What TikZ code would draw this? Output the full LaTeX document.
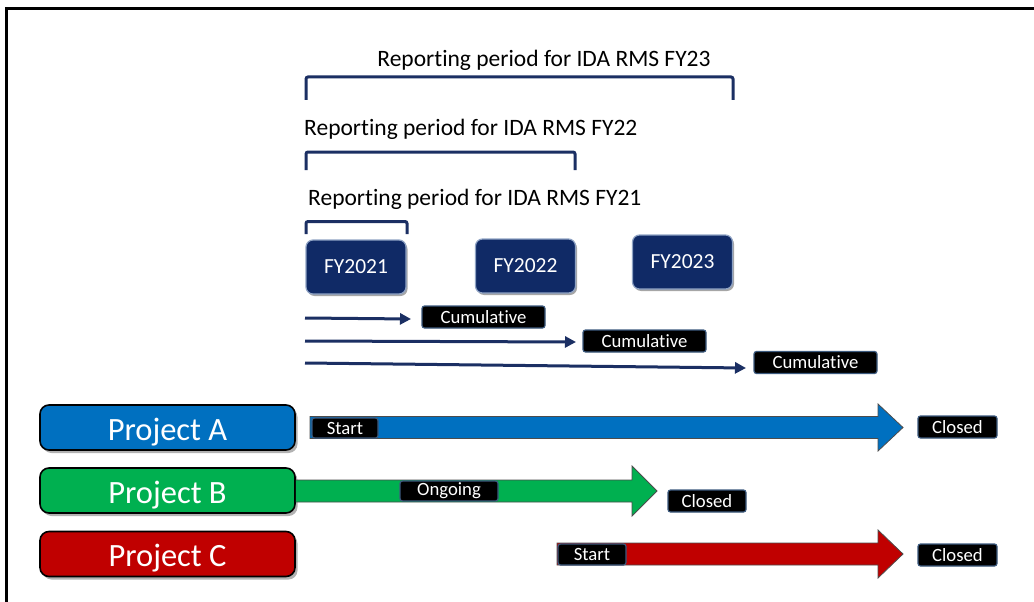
\documentclass[tikz,border=0pt]{standalone}
\usepackage{fontspec}
\setmainfont{Carlito}[Ligatures=NoCommon]
\usetikzlibrary{arrows.meta,shadows}
\definecolor{navy}{HTML}{102A66}
\definecolor{navyline}{HTML}{1B2F63}
\definecolor{fyborder}{HTML}{8FA3C4}
\definecolor{tagborder}{HTML}{3C5A7E}
\definecolor{pblue}{HTML}{0070C0}
\definecolor{pgreen}{HTML}{00B050}
\definecolor{pred}{HTML}{C00000}
\tikzset{
  period/.style={font=\fontsize{23.5}{27}\selectfont, text=black, inner sep=0pt},
  bracket/.style={draw=navyline, line width=3pt, rounded corners=2pt},
  fybox/.style={fill=navy, draw=fyborder, line width=1.2pt, rounded corners=7pt,
    minimum width=100pt, minimum height=54pt, inner sep=0pt, text=white,
    font=\fontsize{21.5}{25}\selectfont,
    drop shadow={shadow xshift=1.5pt, shadow yshift=-2pt, opacity=0.35, fill=black}},
  tag/.style={fill=black, draw=tagborder, line width=1.2pt, rounded corners=2.5pt,
    inner sep=0pt, text=white, font=\fontsize{18.7}{21}\selectfont, minimum height=22pt},
  thinarrow/.style={draw=navyline, line width=3pt, -{Triangle[length=11pt,width=11pt]}},
  project/.style={draw=black, line width=1.6pt, rounded corners=9pt,
    minimum width=255pt, minimum height=45pt, inner sep=0pt, text=white,
    font=\fontsize{32.5}{36}\selectfont,
    drop shadow={shadow xshift=2.5pt, shadow yshift=-3pt, opacity=0.3, fill=black}},
  bigarrow/.style={draw=black!70, line width=0.8pt}
}
\newcommand{\projtext}[1]{\raisebox{-12.5pt}[0pt][0pt]{#1}}
\begin{document}
\begin{tikzpicture}[x=1pt,y=-1pt]
\useasboundingbox (0,0) rectangle (1034,602);
\fill[white] (0,0) rectangle (1034,602);
% frame
\draw[line width=3pt] (1034,8.5) -- (6,8.5) -- (6,602);

% reporting periods
\node[period] (t23) at (544,60) {Reporting period for IDA RMS FY23};
\draw[bracket] (306,100) -- (306,77) -- (733,77) -- (733,100);
\node[period, anchor=west] (t22) at (304,129) {Reporting period for IDA RMS FY22};
\draw[bracket] (306,170) -- (306,152) -- (575,152) -- (575,170);
\node[period, anchor=west] (t21) at (308,199) {Reporting period for IDA RMS FY21};
\draw[bracket] (306,234) -- (306,221.5) -- (407,221.5) -- (407,234);

% FY boxes
\node[fybox] (fy21) at (356,267) {FY2021};
\node[fybox] (fy22) at (525.5,266) {FY2022};
\node[fybox] (fy23) at (682.5,262) {FY2023};

% cumulative
\node[tag, minimum width=123pt] (c1) at (483.5,317) {Cumulative};
\node[tag, minimum width=123pt] (c2) at (644.5,341) {Cumulative};
\node[tag, minimum width=123pt] (c3) at (815.5,362.5) {Cumulative};
\coordinate (s1) at (305,318);
\coordinate (e1) at (411,319);
\coordinate (s2) at (305,341);
\coordinate (e2) at (576,342);
\coordinate (s3) at (305,363);
\coordinate (e3) at (746,368);
\draw[thinarrow] (s1) -- (e1);
\draw[thinarrow] (s2) -- (e2);
\draw[thinarrow] (s3) -- (e3);

% projects
\node[project, fill=pblue] (pa) at (167.5,427.5) {\projtext{Project A}};
\node[project, fill=pgreen] (pb) at (167.5,490.5) {\projtext{Project B}};
\node[project, fill=pred] (pc) at (167.5,554) {\projtext{Project C}};

% big arrows
\fill[pblue, bigarrow] (310,416.5) -- (878,416.5) -- (878,404) -- (903,427.5) -- (878,451) -- (878,438.5) -- (310,438.5) -- cycle;
\fill[pgreen, bigarrow] (pb.east |- 0,480) -- (632,480) -- (632,466) -- (657,491) -- (632,516) -- (632,502) -- (pb.east |- 0,502);
\fill[pred, bigarrow] (557,543) -- (878,543) -- (878,530) -- (903,554) -- (878,578) -- (878,565) -- (557,565) -- cycle;

% tags on project rows
\node[tag, minimum width=66pt, minimum height=20pt] (sa) at (345,428) {Start};
\node[tag, minimum width=79pt] (ca) at (957.5,427) {Closed};
\node[tag, minimum width=98pt, minimum height=20pt] (ob) at (449,491) {Ongoing};
\node[tag, minimum width=78pt] (cb) at (707,501) {Closed};
\node[tag, minimum width=68pt, minimum height=21pt] (sc) at (592,554.5) {Start};
\node[tag, minimum width=79pt] (cc) at (957.5,555) {Closed};
\end{tikzpicture}
\end{document}
